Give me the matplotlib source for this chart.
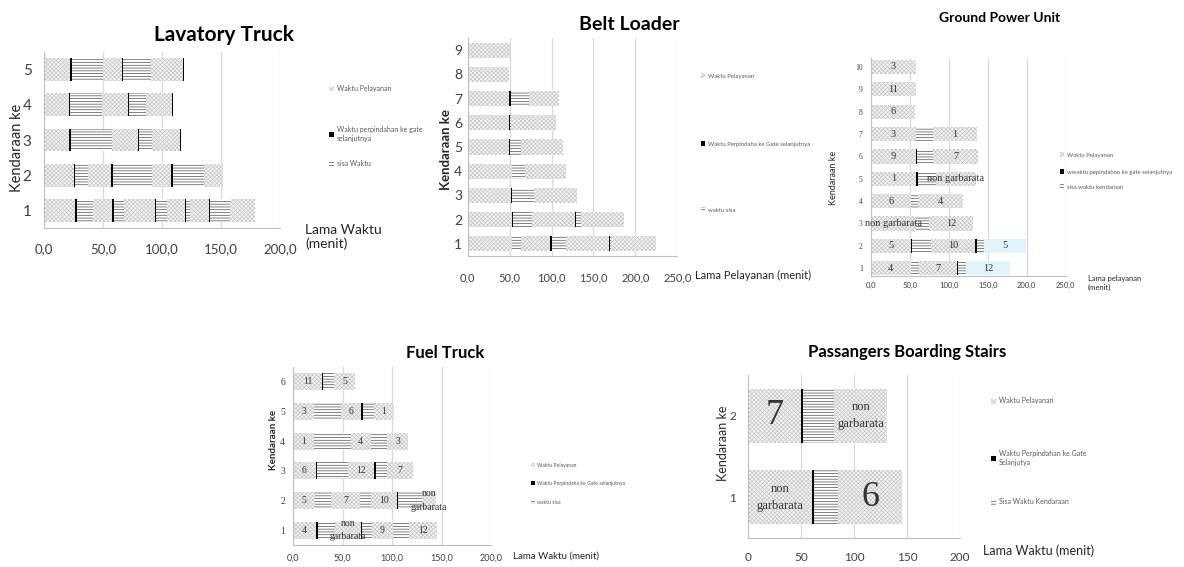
import numpy as np
import matplotlib
matplotlib.use('Agg')
import matplotlib.pyplot as plt
from matplotlib.patches import Patch
from matplotlib.ticker import FuncFormatter

plt.rcParams['font.family'] = ['Lato', 'DejaVu Sans']
plt.rcParams['hatch.linewidth'] = 0.5

W, H = 1184, 567

# DATA - urutan segmen tiap kendaraan: pelayanan, perpindahan, sisa, pelayanan, ...
lav_kendaraan = [1, 2, 3, 4, 5]
lav_durasi = [
    [26.1, 2.0, 13.7, 16.1, 1.4, 8.5, 26.4, 0.9, 9.0, 15.6, 0.9, 2.8, 16.2, 0.8, 17.6, 20.4],
    [25.2, 0.9, 10.8, 19.8, 2.0, 32.6, 16.2, 1.4, 27.0, 15.9],
    [21.3, 1.4, 34.6, 22.1, 1.4, 10.5, 24.2, 0.6],
    [21.3, 1.1, 26.7, 21.8, 1.1, 14.2, 22.2, 0.9],
    [21.8, 1.7, 26.1, 16.2, 1.4, 23.3, 27.2, 0.9],
]
lav_legenda = ['Waktu Pelayanan', 'Waktu perpindahan ke gate\nselanjutnya', 'sisa Waktu']

belt_kendaraan = [1, 2, 3, 4, 5, 6, 7, 8, 9]
belt_durasi = [
    [52.9, 0.5, 9.8, 35.0, 2.4, 16.6, 51.7, 1.0, 0.6, 53.7],
    [52.9, 1.2, 22.6, 51.7, 0.8, 5.5, 51.7],
    [52.1, 0.8, 26.6, 50.5],
    [52.9, 0.5, 15.4, 48.1],
    [49.7, 1.2, 12.7, 49.7],
    [49.7, 0.5, 2.0, 53.1],
    [48.9, 2.4, 21.4, 35.8],
    [49.7],
    [50.5],
]
belt_legenda = ['Waktu Pelayanan', 'Waktu Perpindaha ke Gate selanjutnya', 'waktu sisa']

gpu_kendaraan = [1, 2, 3, 4, 5, 6, 7, 8, 9, 10]
gpu_durasi = [
    [50.9, 0.5, 10.2, 48.4, 2.1, 9.4, 56.9],
    [50.9, 1.3, 24.4, 57.4, 1.7, 9.4, 53.9],
    [57.4, 0.5, 16.2, 57.3],
    [50.9, 0.5, 9.4, 56.9],
    [57.8, 2.1, 23.1, 51.4],
    [57.4, 1.7, 20.9, 57.8],
    [57.4, 0.6, 21.2, 56.5],
    [56.5],
    [57.4],
    [57.4],
]
gpu_gate = [['4', '7', '12'], ['5', '10', '5'], ['non garbarata', '12'], ['6', '4'],
            ['1', 'non garbarata'], ['9', '7'], ['3', '1'], ['6'], ['11'], ['3']]
gpu_biru = [1, 2]   # kendaraan dengan pelayanan terakhir berwarna biru
gpu_legenda = ['Waktu Pelayanan', 'wwaktu pepindahan ke gate selanjutnya', 'sisa waktu kendaraan']

fuel_kendaraan = [1, 2, 3, 4, 5, 6]
fuel_durasi = [
    [22.6, 2.0, 17.9, 26.0, 1.3, 9.5, 21.2, 0.3, 16.6, 27.6],
    [21.9, 0.3, 15.6, 29.7, 0.3, 10.4, 26.4, 1.0, 24.2, 15.0],
    [22.6, 1.7, 31.3, 26.4, 1.3, 11.1, 27.0],
    [20.9, 0.5, 36.6, 20.2, 0.5, 16.4, 21.3],
    [20.9, 0.5, 26.5, 20.6, 1.7, 11.4, 20.3],
    [28.7, 1.7, 10.7, 21.3],
]
fuel_gate = [['4', 'non\ngarbarata', '9', '12'], ['5', '7', '10', 'non\ngarbarata'],
             ['6', '12', '7'], ['1', '4', '3'], ['3', '6', '1'], ['11', '5']]
fuel_legenda = ['Waktu Pelayanan', 'Waktu Perpindaha ke Gate selanjutnya', 'waktu sisa']

pbs_kendaraan = [1, 2]
pbs_durasi = [
    [60.5, 1.6, 22.9, 60.5],
    [49.8, 1.6, 29.5, 50.4],
]
pbs_gate = [['non\ngarbarata', '6'], ['7', 'non\ngarbarata']]
pbs_legenda = ['Waktu Pelayanan', 'Waktu Perpindahan ke Gate\nSelanjutya', 'Sisa Waktu Kendaraan']


# GAYA
gaya_layan = dict(facecolor='#f4f4f4', edgecolor='#c6c6c6', hatch='xxxxxxxx', linewidth=0)
gaya_biru = dict(facecolor='#e3f3fb', edgecolor='#e3f3fb', linewidth=0)
gaya_pindah = dict(facecolor='black', edgecolor='black', linewidth=0)
gaya_sisa = dict(facecolor='white', edgecolor='#4d4d4d', hatch='------', linewidth=0)
gaya_list = [gaya_layan, gaya_pindah, gaya_sisa]

huruf_sempit = ['Liberation Sans Narrow', 'Lato']


def px(x, y):
    return x / W, 1 - y / H


def gambar(ax, kendaraan, durasi, gate=None, biru=(), tinggi=0.65, uk_teks=7, uk_angka=None):
    for n, (k, segmen) in enumerate(zip(kendaraan, durasi)):
        kiri = np.concatenate([[0], np.cumsum(segmen)[:-1]])
        idx_layan = list(range(0, len(segmen), 3))
        for i, (d, l) in enumerate(zip(segmen, kiri)):
            g = gaya_list[i % 3]
            if k in biru and i == idx_layan[-1]:
                g = gaya_biru
            ax.barh(k, d, left=l, height=tinggi, **g)
        if gate is not None:
            for j, t in zip(idx_layan, gate[n]):
                uk = uk_angka if (uk_angka and t.isdigit()) else uk_teks
                ax.text(kiri[j] + segmen[j] / 2, k, t, ha='center', va='center',
                        fontsize=uk, family='Liberation Serif', color='#333333',
                        linespacing=1.6 if '\n' in t else 1.0)


def rapikan(ax, xmax, ylim, kendaraan, uk_x, uk_y, pad_x, pad_y, desimal=True, huruf_y=None):
    ax.set_xlim(0, xmax)
    ax.set_ylim(*ylim)
    ax.set_xticks(np.arange(0, xmax + 1, 50))
    if desimal:
        ax.xaxis.set_major_formatter(FuncFormatter(lambda v, p: f'{v:.1f}'.replace('.', ',')))
    ax.set_yticks(kendaraan)
    ax.set_yticklabels([str(k) for k in kendaraan])
    ax.tick_params(axis='x', length=0, labelsize=uk_x, pad=pad_x, colors='#404040')
    ax.tick_params(axis='y', length=0, labelsize=uk_y, pad=pad_y, colors='#404040')
    if huruf_y:
        for t in ax.get_yticklabels():
            t.set_family(huruf_y)
    ax.set_axisbelow(True)
    ax.xaxis.grid(True, color='#d9d9d9', linewidth=0.9)
    for s in ['top', 'right']:
        ax.spines[s].set_visible(False)
    for s in ['left', 'bottom']:
        ax.spines[s].set_color('#bfbfbf')


def legenda(fig, teks, x, ys, ukuran):
    handles = [Patch(**gaya_layan), Patch(**gaya_pindah), Patch(**gaya_sisa)]
    for h, t, y in zip(handles, teks, ys):
        fig.legend([h], [t], loc='center left', bbox_to_anchor=px(x, y), frameon=False,
                   fontsize=ukuran, handlelength=0.7, handleheight=0.7, handletextpad=0.4,
                   borderaxespad=0, borderpad=0, labelcolor='#595959')


fig = plt.figure(figsize=(W / 100, H / 100), dpi=100)

# LAVATORY TRUCK
ax1 = fig.add_axes([44 / W, 1 - 228 / H, 236 / W, 176 / H])
gambar(ax1, lav_kendaraan, lav_durasi)
rapikan(ax1, 200, (0.5, 5.5), lav_kendaraan, 9.5, 11, 11, 9)
fig.text(*px(224, 35), 'Lavatory Truck', ha='center', va='center', fontsize=15, fontweight='bold')
fig.text(*px(17, 148), 'Kendaraan ke', rotation=90, ha='center', va='center', fontsize=10.5, color='#262626')
fig.text(*px(305, 237), 'Lama Waktu\n(menit)', ha='left', va='center', fontsize=10, color='#262626')
legenda(fig, lav_legenda, 329, [89, 134, 164], 5)

# BELT LOADER
ax2 = fig.add_axes([467.7 / W, 1 - 256 / H, 209.6 / W, 218 / H])
gambar(ax2, belt_kendaraan, belt_durasi, tinggi=0.62)
rapikan(ax2, 250, (0.5, 9.5), belt_kendaraan, 8, 10, 12, 4, huruf_y=huruf_sempit)
fig.text(*px(446, 150), 'Kendaraan ke', rotation=90, ha='center', va='center', fontsize=9.5,
         fontweight='bold', color='#262626')
fig.text(*px(629, 25), 'Belt Loader', ha='center', va='center', fontsize=14, fontweight='bold')
fig.text(*px(695, 275), 'Lama Pelayanan (menit)', ha='left', va='center', fontsize=8, color='#262626')
legenda(fig, belt_legenda, 701, [76, 144, 210], 4.3)

# GROUND POWER UNIT
ax3 = fig.add_axes([871 / W, 1 - 276 / H, 194.7 / W, 218 / H])
gambar(ax3, gpu_kendaraan, gpu_durasi, gate=gpu_gate, biru=gpu_biru, tinggi=0.64, uk_teks=7.5)
rapikan(ax3, 250, (0.65, 10.4), gpu_kendaraan, 5.5, 5.5, 4, 6, huruf_y='Liberation Serif')
fig.text(*px(1000, 18), 'Ground Power Unit', ha='center', va='center', fontsize=10, fontweight='bold')
fig.text(*px(834, 178), 'Kendaraan ke', rotation=90, ha='center', va='center', fontsize=6.5, color='#262626')
fig.text(*px(1088, 283), 'Lama pelayanan\n(menit)', ha='left', va='center', fontsize=5.5, color='#262626')
legenda(fig, gpu_legenda, 1060, [155, 172, 187], 4.3)

# FUEL TRUCK
ax4 = fig.add_axes([293.3 / W, 1 - 545 / H, 197.7 / W, 178 / H])
gambar(ax4, fuel_kendaraan, fuel_durasi, gate=fuel_gate, tinggi=0.58, uk_teks=7)
rapikan(ax4, 200, (0.5, 6.5), fuel_kendaraan, 6.5, 7, 6, 6, huruf_y='Liberation Serif')
fig.text(*px(445, 353), 'Fuel Truck', ha='center', va='center', fontsize=12, fontweight='bold')
fig.text(*px(273, 440), 'Kendaraan ke', rotation=90, ha='center', va='center', fontsize=7,
         fontweight='bold', color='#262626')
fig.text(*px(513, 556), 'Lama Waktu (menit)', ha='left', va='center', fontsize=7, color='#262626')
legenda(fig, fuel_legenda, 531, [465, 483, 502], 3.7)

# PASSANGERS BOARDING STAIRS
ax5 = fig.add_axes([748.3 / W, 1 - 538 / H, 211.7 / W, 163 / H])
gambar(ax5, pbs_kendaraan, pbs_durasi, gate=pbs_gate, tinggi=0.66, uk_teks=9, uk_angka=26)
rapikan(ax5, 200, (0.5, 2.5), pbs_kendaraan, 8.5, 8.5, 10, 9, desimal=False)
fig.text(*px(907, 352), 'Passangers Boarding Stairs', ha='center', va='center', fontsize=12, fontweight='bold')
fig.text(*px(723, 443), 'Kendaraan ke', rotation=90, ha='center', va='center', fontsize=9, color='#262626')
fig.text(*px(983, 551), 'Lama Waktu (menit)', ha='left', va='center', fontsize=9, color='#262626')
legenda(fig, pbs_legenda, 991, [401, 458, 502], 5)

fig.savefig('out.png', dpi=100)
